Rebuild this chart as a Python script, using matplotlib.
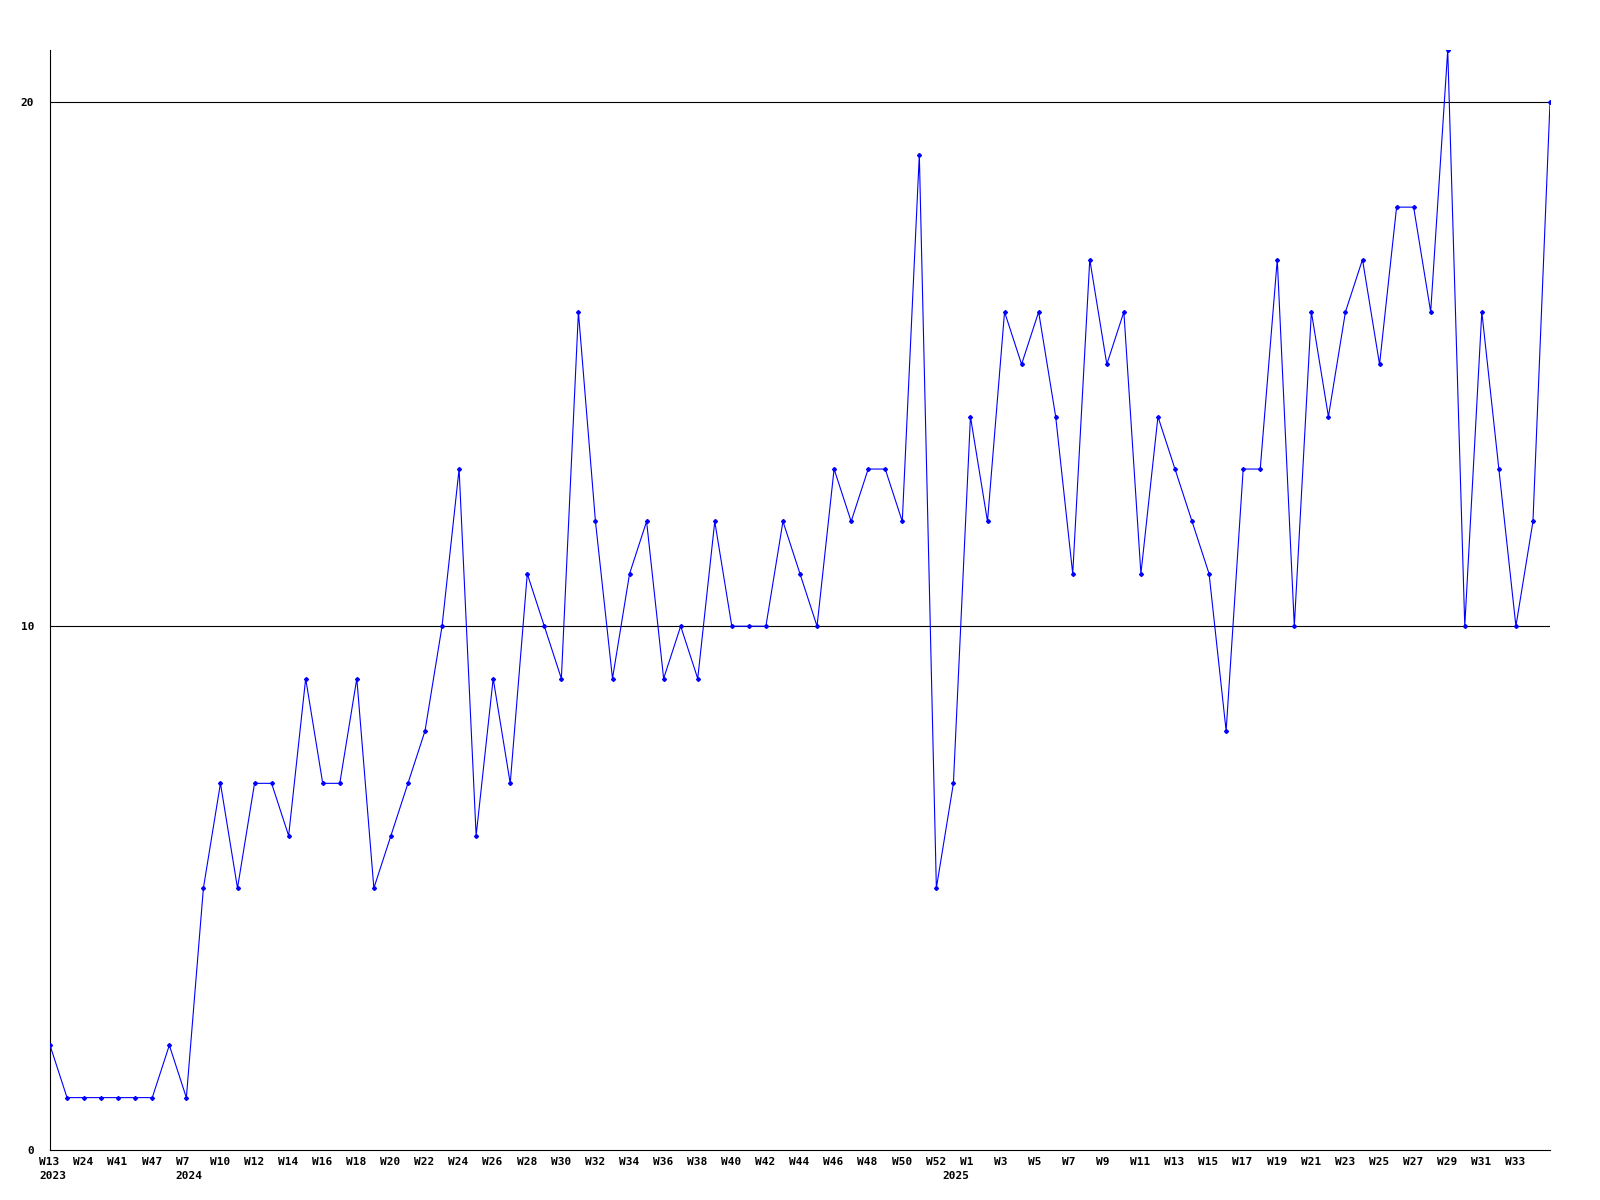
import matplotlib
matplotlib.use('Agg')
import matplotlib.pyplot as plt
import matplotlib.transforms as mtransforms
import numpy as np

# weekly values, one per point
values = [2, 1, 1, 1, 1, 1, 1, 2, 1, 5,
          7, 5, 7, 7, 6, 9, 7, 7, 9, 5,
          6, 7, 8, 10, 13, 6, 9, 7, 11, 10,
          9, 16, 12, 9, 11, 12, 9, 10, 9, 12,
          10, 10, 10, 12, 11, 10, 13, 12, 13, 13,
          12, 19, 5, 7, 14, 12, 16, 15, 16, 14,
          11, 17, 15, 16, 11, 14, 13, 12, 11, 8,
          13, 13, 17, 10, 16, 14, 16, 17, 15, 18,
          18, 16, 21, 10, 16, 13, 10, 12, 20]

# labels shown on every other point
week_labels = ['W13', 'W24', 'W41', 'W47', 'W7', 'W10', 'W12', 'W14', 'W16', 'W18',
               'W20', 'W22', 'W24', 'W26', 'W28', 'W30', 'W32', 'W34', 'W36', 'W38',
               'W40', 'W42', 'W44', 'W46', 'W48', 'W50', 'W52', 'W1', 'W3', 'W5',
               'W7', 'W9', 'W11', 'W13', 'W15', 'W17', 'W19', 'W21', 'W23', 'W25',
               'W27', 'W29', 'W31', 'W33']
year_pos = [0, 8, 53]
year_labels = ['2023', '2024', '2025']
yticks = [0, 10, 20]

x = np.arange(len(values))
font = dict(family='DejaVu Sans Mono', fontsize=8, fontweight='bold')

fig = plt.figure(figsize=(16, 12), dpi=100)
ax = fig.add_axes([50 / 1600, 50 / 1200, 1500 / 1600, 1100 / 1200])

for v in yticks[1:]:
    ax.axhline(v, color='black', lw=0.8, zorder=1)

ax.plot(x, values, color='#0000ff', lw=0.8, marker='D', markersize=2, zorder=3)

ax.set_xlim(0, len(values) - 1)
ax.set_ylim(0, 21)
for s in ['top', 'right']:
    ax.spines[s].set_visible(False)
for s in ['left', 'bottom']:
    ax.spines[s].set_linewidth(0.8)
    ax.spines[s].set_color('black')

ax.set_yticks(yticks)
ax.set_yticklabels([str(v) for v in yticks], **font)
ax.tick_params(axis='y', length=0, pad=11.5)

ax.set_xticks(x[::2][:len(week_labels)])
ax.set_xticklabels(week_labels, ha='left', **font)
ax.tick_params(axis='x', length=0, pad=5)
shift = mtransforms.ScaledTranslation(-10.7 / 100, 0, fig.dpi_scale_trans)
for lab in ax.get_xticklabels():
    lab.set_transform(lab.get_transform() + shift)

trans = mtransforms.blended_transform_factory(ax.transData, ax.transAxes) + shift
for p, t in zip(year_pos, year_labels):
    ax.text(p, -0.0195, t, transform=trans, ha='left', va='top', **font)

fig.savefig('out.png', dpi=100)
